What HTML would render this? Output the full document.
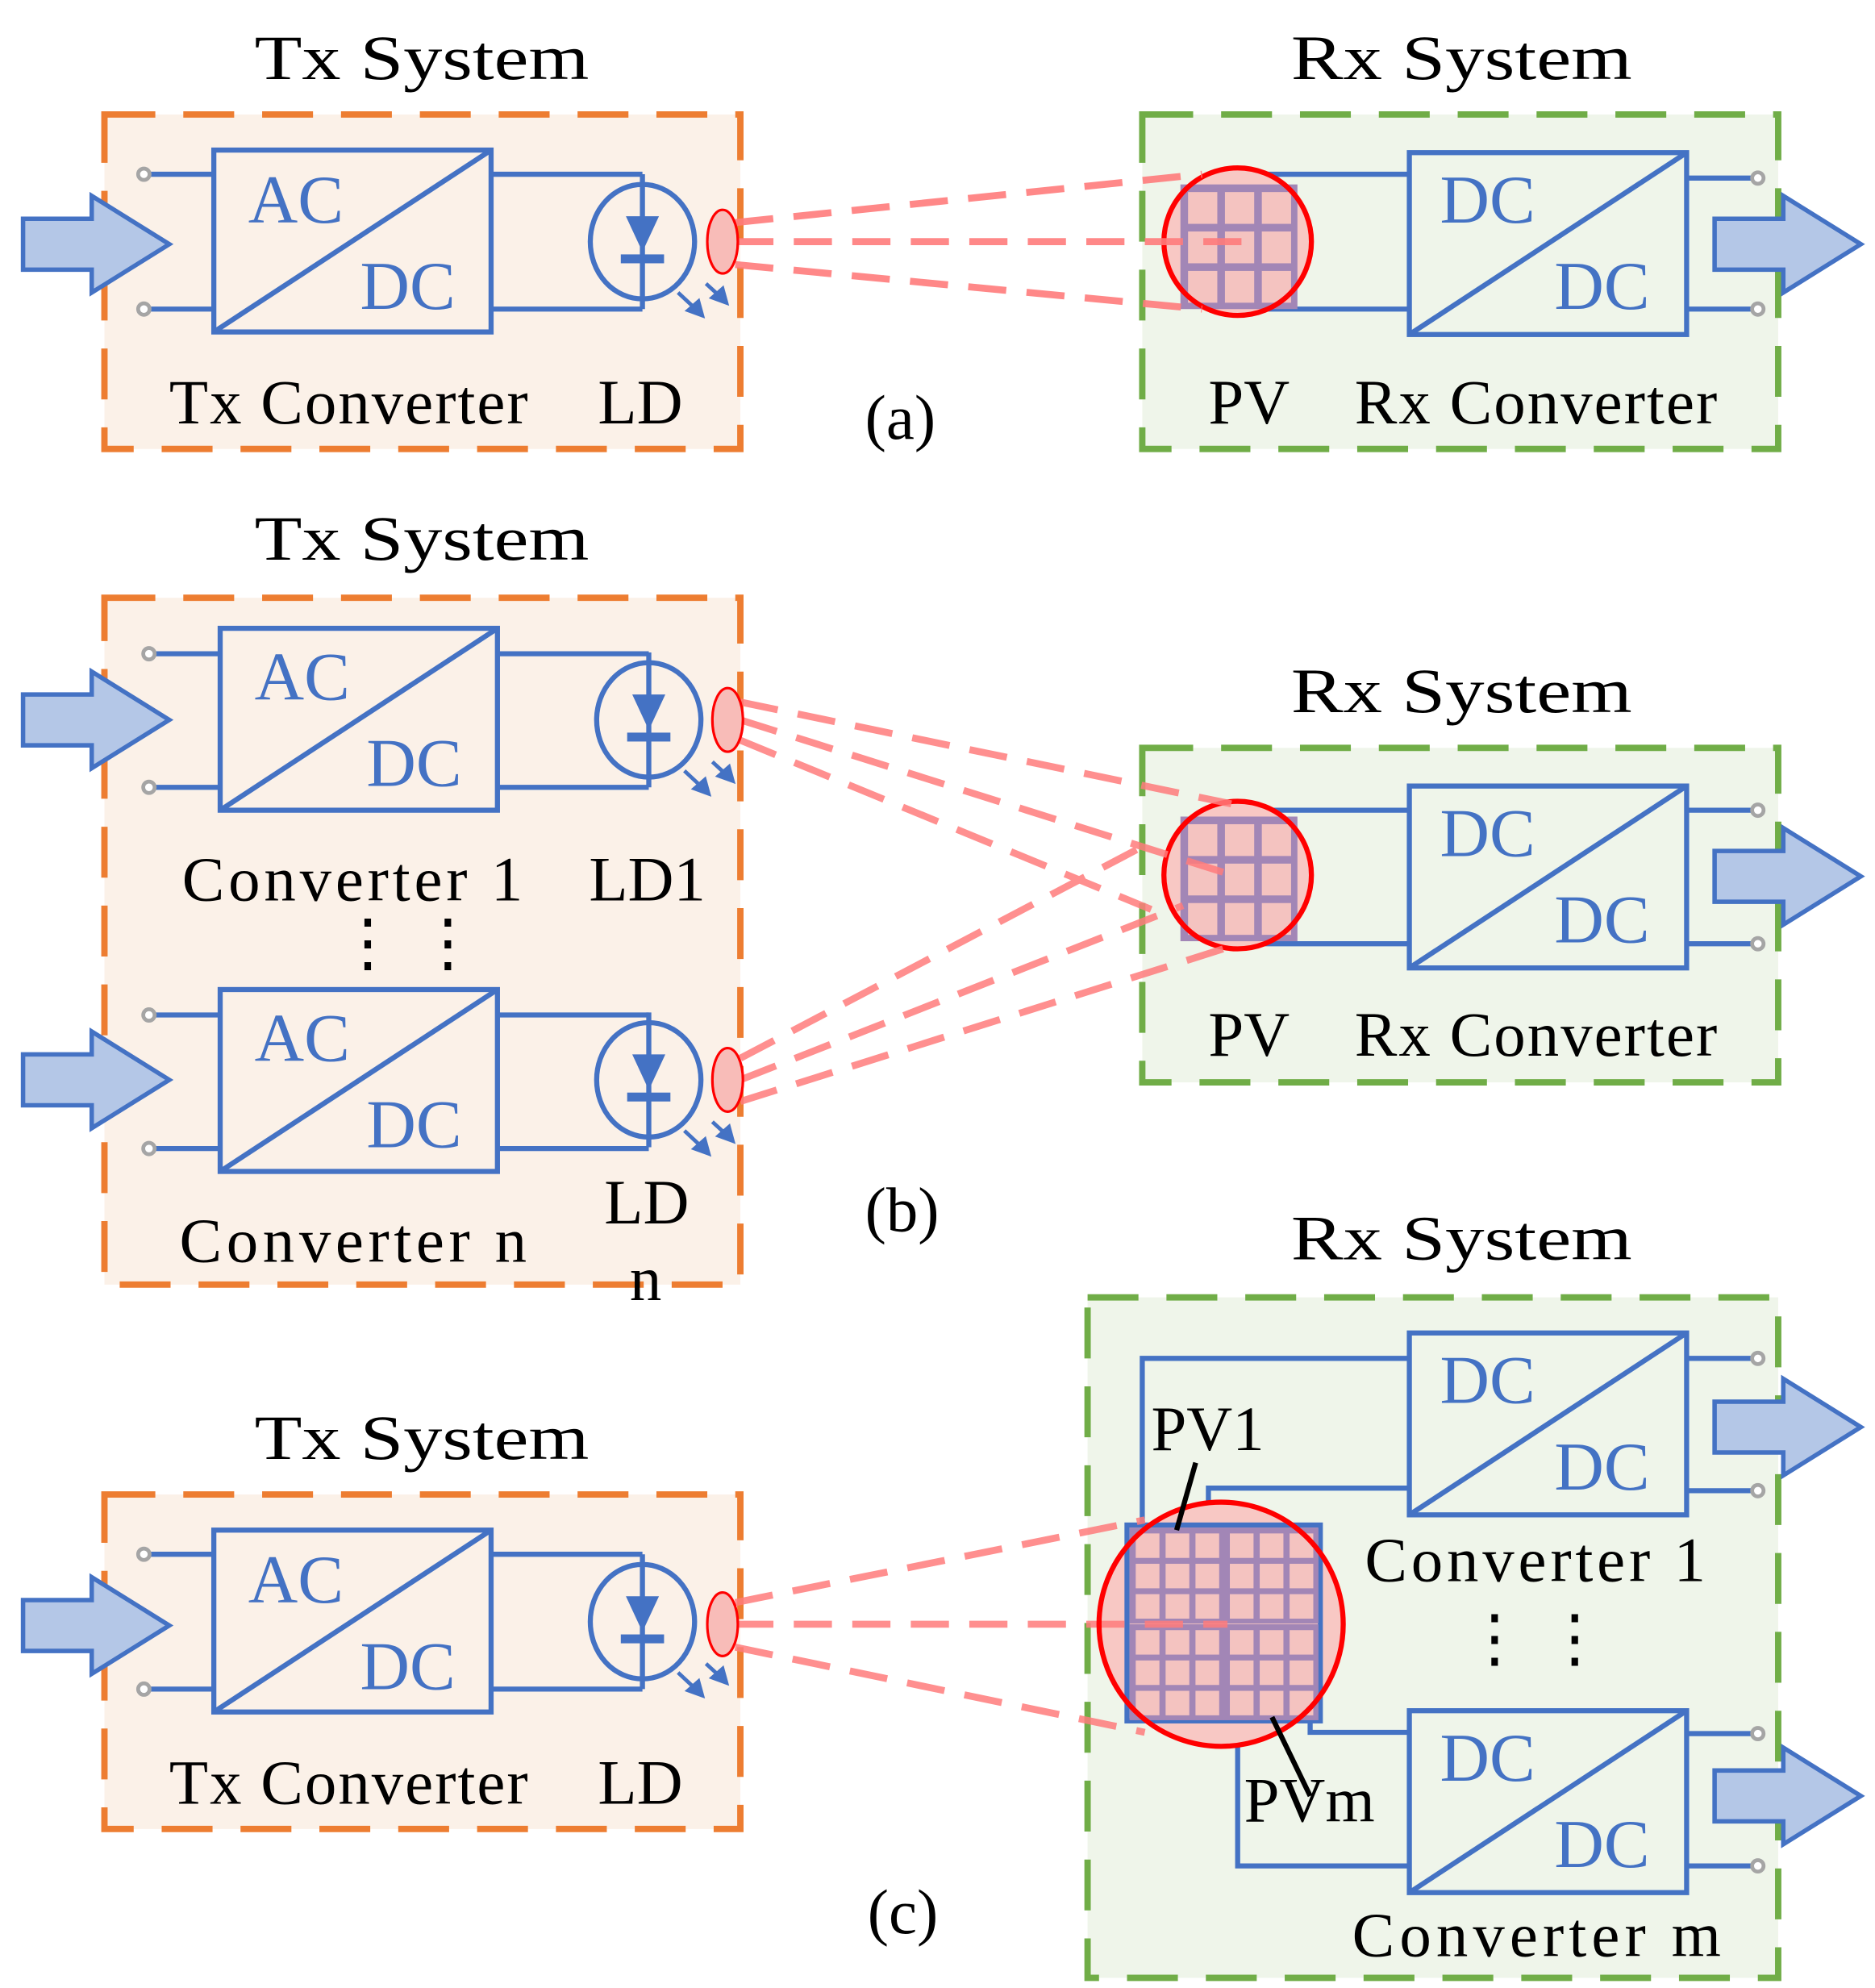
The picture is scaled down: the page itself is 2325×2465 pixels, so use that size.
<!DOCTYPE html>
<html><head><meta charset="utf-8"><style>
html,body{margin:0;padding:0;background:#fff}
svg{display:block}
text{font-family:"Liberation Serif",serif}
.t{fill:#000;font-size:50px}
.b{fill:#4472c4;font-size:54px}
</style></head><body>
<svg width="2325" height="2465" viewBox="0 0 1474 1563" xmlns="http://www.w3.org/2000/svg">
<defs>
<g id="arrowIn"><polygon points="-57,-20 -3,-20 -3,-38 58,0 -3,38 -3,20 -57,20" fill="#b4c7e7" stroke="#4472c4" stroke-width="3.5"/></g>
<g id="grid">
<rect x="0" y="0" width="92" height="98" fill="#a286b6"/>
<g fill="#f4c3c0">
<rect x="6" y="6" width="23" height="25"/><rect x="35" y="6" width="23" height="25"/><rect x="64" y="6" width="23" height="25"/>
<rect x="6" y="37" width="23" height="25"/><rect x="35" y="37" width="23" height="25"/><rect x="64" y="37" width="23" height="25"/>
<rect x="6" y="68" width="23" height="25"/><rect x="35" y="68" width="23" height="25"/><rect x="64" y="68" width="23" height="25"/>
</g></g>
<g id="ld">
<line x1="0" y1="-53" x2="0" y2="53" stroke="#4472c4" stroke-width="4"/>
<ellipse cx="0" cy="0" rx="41" ry="45" fill="none" stroke="#4472c4" stroke-width="4"/>
<polygon points="-13,-20 13,-20 0,8" fill="#4472c4"/>
<rect x="-17" y="10" width="34" height="7" fill="#4472c4"/>
<g stroke="#4472c4" stroke-width="3" fill="#4472c4">
<line x1="28" y1="40" x2="43" y2="54"/><polygon points="47,58 36,54 44,47"/>
<line x1="50" y1="33" x2="62" y2="44"/><polygon points="66,48 55,44 63,37"/>
</g>
</g>
<g id="conv" fill="none" stroke="#4472c4" stroke-width="4">
<rect x="0" y="0" width="218" height="143"/><line x1="0" y1="143" x2="218" y2="0"/>
</g>
<g id="term"><circle r="4.5" fill="#fff" stroke="#a5a5a5" stroke-width="3"/></g>
</defs>

<!-- ===== (a) ===== -->
<rect x="82" y="90" width="500" height="263" fill="#fbf1e8" stroke="#ed7d31" stroke-width="5" stroke-dasharray="40,22"/>
<text class="t" x="200" y="62" textLength="263" lengthAdjust="spacingAndGlyphs" font-size="62">Tx System</text>
<use href="#arrowIn" x="75" y="192"/>
<g stroke="#4472c4" stroke-width="4"><line x1="116" y1="137" x2="168" y2="137"/><line x1="116" y1="243" x2="168" y2="243"/>
<polyline points="386,137 505,137" /><polyline points="386,243 505,243"/></g>
<use href="#term" x="113" y="137"/><use href="#term" x="113" y="243"/>
<use href="#conv" x="168" y="118"/>
<text class="b" x="195" y="175">AC</text><text class="b" x="283" y="243">DC</text>
<use href="#ld" x="505" y="190"/>
<text class="t" x="133" y="333" textLength="282" font-size="48">Tx Converter</text>
<text class="t" x="470" y="333" font-size="48">LD</text>
<text class="t" x="680" y="345" font-size="54">(a)</text>

<rect x="898" y="90" width="500" height="263" fill="#eff5ea" stroke="#70ad47" stroke-width="5" stroke-dasharray="40,22"/>
<text class="t" x="1015" y="62" textLength="268" lengthAdjust="spacingAndGlyphs" font-size="62">Rx System</text>
<g stroke="#4472c4" stroke-width="4" fill="none"><polyline points="975,137 1108,137"/><polyline points="975,243 1108,243"/>
<line x1="1326" y1="140" x2="1379" y2="140"/><line x1="1326" y1="243" x2="1379" y2="243"/></g>
<circle cx="973" cy="190" r="58" fill="#f8c8c4"/>
<use href="#grid" x="928" y="145"/>
<circle cx="973" cy="190" r="58" fill="none" stroke="#f00" stroke-width="4"/>
<use href="#conv" x="1108" y="120"/>
<text class="b" x="1132" y="175">DC</text><text class="b" x="1222" y="243">DC</text>
<use href="#term" x="1382" y="140"/><use href="#term" x="1382" y="243"/>
<use href="#arrowIn" x="1405" y="192"/>
<text class="t" x="950" y="333" font-size="48">PV</text>
<text class="t" x="1065" y="333" textLength="285" font-size="48">Rx Converter</text>
<g stroke="#ff7c7c" stroke-width="5.5" stroke-dasharray="30,16" opacity="0.9">
<line x1="578" y1="175" x2="945" y2="137"/><line x1="578" y1="190" x2="980" y2="190"/><line x1="578" y1="208" x2="945" y2="243"/></g>
<ellipse cx="568" cy="190" rx="12" ry="25" fill="#f8bcb8" stroke="#f00" stroke-width="2"/>

<!-- ===== (b) ===== -->
<rect x="82" y="470" width="500" height="540" fill="#fbf1e8" stroke="#ed7d31" stroke-width="5" stroke-dasharray="40,22"/>
<text class="t" x="200" y="440" textLength="263" lengthAdjust="spacingAndGlyphs" font-size="62">Tx System</text>
<use href="#arrowIn" x="75" y="566"/>
<use href="#arrowIn" x="75" y="849"/>
<g stroke="#4472c4" stroke-width="4"><line x1="116" y1="514" x2="173" y2="514"/><line x1="116" y1="619" x2="173" y2="619"/>
<line x1="391" y1="514" x2="510" y2="514"/><line x1="391" y1="619" x2="510" y2="619"/>
<line x1="116" y1="798" x2="173" y2="798"/><line x1="116" y1="903" x2="173" y2="903"/>
<line x1="391" y1="798" x2="510" y2="798"/><line x1="391" y1="903" x2="510" y2="903"/></g>
<use href="#term" x="117" y="514"/><use href="#term" x="117" y="619"/>
<use href="#term" x="117" y="798"/><use href="#term" x="117" y="903"/>
<use href="#conv" x="173" y="494"/><use href="#conv" x="173" y="778"/>
<text class="b" x="200" y="550">AC</text><text class="b" x="288" y="618">DC</text>
<text class="b" x="200" y="834">AC</text><text class="b" x="288" y="902">DC</text>
<use href="#ld" x="510" y="566"/><use href="#ld" x="510" y="849"/>
<text class="t" x="143" y="708" textLength="268" font-size="48">Converter 1</text>
<text class="t" x="463" y="708" font-size="48">LD1</text>
<text class="t" x="264" y="758" font-size="40">⋮</text><text class="t" x="327" y="758" font-size="40">⋮</text>
<text class="t" x="141" y="992" textLength="273" font-size="48">Converter n</text>
<text class="t" x="475" y="962" font-size="48">LD</text>
<text class="t" x="495" y="1022" font-size="48">n</text>
<text class="t" x="680" y="968" font-size="54">(b)</text>

<rect x="898" y="588" width="500" height="263" fill="#eff5ea" stroke="#70ad47" stroke-width="5" stroke-dasharray="40,22"/>
<text class="t" x="1015" y="560" textLength="268" lengthAdjust="spacingAndGlyphs" font-size="62">Rx System</text>
<g stroke="#4472c4" stroke-width="4" fill="none"><polyline points="975,637 1108,637"/><polyline points="975,742 1108,742"/>
<line x1="1326" y1="637" x2="1379" y2="637"/><line x1="1326" y1="742" x2="1379" y2="742"/></g>
<circle cx="973" cy="688" r="58" fill="#f8c8c4"/>
<use href="#grid" x="928" y="642"/>
<circle cx="973" cy="688" r="58" fill="none" stroke="#f00" stroke-width="4"/>
<use href="#conv" x="1108" y="618"/>
<text class="b" x="1132" y="673">DC</text><text class="b" x="1222" y="741">DC</text>
<use href="#term" x="1382" y="637"/><use href="#term" x="1382" y="742"/>
<use href="#arrowIn" x="1405" y="689"/>
<text class="t" x="950" y="830" font-size="48">PV</text>
<text class="t" x="1065" y="830" textLength="285" font-size="48">Rx Converter</text>
<g stroke="#ff7c7c" stroke-width="5.5" stroke-dasharray="30,16" opacity="0.85">
<line x1="582" y1="552" x2="968" y2="632"/><line x1="582" y1="566" x2="975" y2="690"/><line x1="582" y1="582" x2="905" y2="715"/>
<line x1="582" y1="832" x2="905" y2="662"/><line x1="582" y1="849" x2="930" y2="712"/><line x1="582" y1="866" x2="965" y2="745"/></g>
<ellipse cx="572" cy="566" rx="12" ry="25" fill="#f8bcb8" stroke="#f00" stroke-width="2"/>
<ellipse cx="572" cy="849" rx="12" ry="25" fill="#f8bcb8" stroke="#f00" stroke-width="2"/>

<!-- ===== (c) ===== -->
<rect x="82" y="1175" width="500" height="263" fill="#fbf1e8" stroke="#ed7d31" stroke-width="5" stroke-dasharray="40,22"/>
<text class="t" x="200" y="1147" textLength="263" lengthAdjust="spacingAndGlyphs" font-size="62">Tx System</text>
<use href="#arrowIn" x="75" y="1278"/>
<g stroke="#4472c4" stroke-width="4"><line x1="116" y1="1222" x2="168" y2="1222"/><line x1="116" y1="1328" x2="168" y2="1328"/>
<line x1="386" y1="1222" x2="505" y2="1222"/><line x1="386" y1="1328" x2="505" y2="1328"/></g>
<use href="#term" x="113" y="1222"/><use href="#term" x="113" y="1328"/>
<use href="#conv" x="168" y="1203"/>
<text class="b" x="195" y="1260">AC</text><text class="b" x="283" y="1328">DC</text>
<use href="#ld" x="505" y="1275"/>
<text class="t" x="133" y="1418" textLength="282" font-size="48">Tx Converter</text>
<text class="t" x="470" y="1418" font-size="48">LD</text>
<text class="t" x="682" y="1520" font-size="54">(c)</text>

<rect x="855" y="1020" width="543" height="535" fill="#eff5ea" stroke="#70ad47" stroke-width="5" stroke-dasharray="40,22"/>
<text class="t" x="1015" y="990" textLength="268" lengthAdjust="spacingAndGlyphs" font-size="62">Rx System</text>
<g stroke="#4472c4" stroke-width="4" fill="none">
<polyline points="898,1200 898,1068 1108,1068"/>
<polyline points="950,1200 950,1170 1108,1170"/>
<polyline points="1030,1352 1030,1362 1108,1362"/>
<polyline points="973,1352 973,1467 1108,1467"/>
<line x1="1326" y1="1068" x2="1379" y2="1068"/><line x1="1326" y1="1172" x2="1379" y2="1172"/>
<line x1="1326" y1="1363" x2="1379" y2="1363"/><line x1="1326" y1="1467" x2="1379" y2="1467"/></g>
<ellipse cx="960" cy="1277" rx="96" ry="96" fill="#f8c8c4"/>
<rect x="886" y="1199" width="152" height="154" fill="none" stroke="#4472c4" stroke-width="4"/>
<use href="#grid" transform="translate(888,1201) scale(0.81,0.77)"/>
<use href="#grid" transform="translate(962,1201) scale(0.81,0.77)"/>
<use href="#grid" transform="translate(888,1277) scale(0.81,0.77)"/>
<use href="#grid" transform="translate(962,1277) scale(0.81,0.77)"/>
<g stroke="#ff7c7c" stroke-width="5.5" stroke-dasharray="30,16" opacity="0.85">
<line x1="578" y1="1260" x2="900" y2="1195"/><line x1="578" y1="1277" x2="965" y2="1277"/><line x1="578" y1="1295" x2="900" y2="1362"/></g>
<ellipse cx="960" cy="1277" rx="96" ry="96" fill="none" stroke="#f00" stroke-width="4"/>
<ellipse cx="568" cy="1277" rx="12" ry="25" fill="#f8bcb8" stroke="#f00" stroke-width="2"/>
<use href="#conv" x="1108" y="1048"/><use href="#conv" x="1108" y="1345"/>
<text class="b" x="1132" y="1103">DC</text><text class="b" x="1222" y="1171">DC</text>
<text class="b" x="1132" y="1400">DC</text><text class="b" x="1222" y="1468">DC</text>
<use href="#term" x="1382" y="1068"/><use href="#term" x="1382" y="1172"/>
<use href="#term" x="1382" y="1363"/><use href="#term" x="1382" y="1467"/>
<use href="#arrowIn" x="1405" y="1122"/><use href="#arrowIn" x="1405" y="1412"/>
<g stroke="#000" stroke-width="4"><line x1="940" y1="1150" x2="925" y2="1203"/><line x1="1000" y1="1350" x2="1030" y2="1412"/></g>
<text class="t" x="905" y="1140" font-size="50">PV1</text>
<text class="t" x="978" y="1432" font-size="50">PVm</text>
<text class="t" x="1073" y="1243" textLength="268" font-size="48">Converter 1</text>
<text class="t" x="1150" y="1305" font-size="40">⋮</text><text class="t" x="1213" y="1305" font-size="40">⋮</text>
<text class="t" x="1063" y="1538" textLength="290" font-size="48">Converter m</text>
</svg>
</body></html>
